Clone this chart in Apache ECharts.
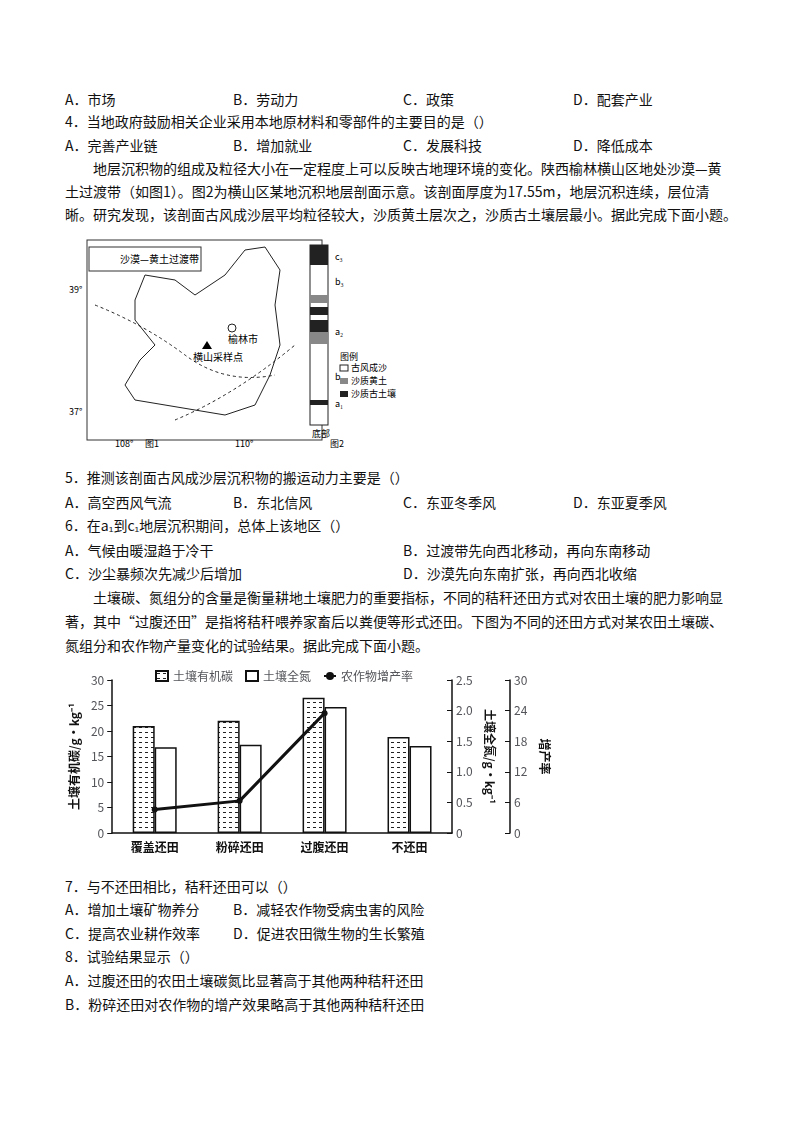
<!DOCTYPE html>
<html><head><meta charset="utf-8">
<script src="https://cdn.jsdelivr.net/npm/echarts@6/dist/echarts.min.js"></script>
<style>
body{margin:0;width:800px;height:1132px;background:#fff;font-family:"Noto Sans CJK SC",sans-serif;color:#111;position:relative}
.l{position:absolute;font-size:14px;white-space:nowrap;line-height:20px}
</style></head><body>
<div class="l" style="left:65px;top:89px">A．市场</div><div class="l" style="left:233px;top:89px">B．劳动力</div><div class="l" style="left:403px;top:89px">C．政策</div><div class="l" style="left:573px;top:89px">D．配套产业</div>
<div class="l" style="left:65px;top:111px">4．当地政府鼓励相关企业采用本地原材料和零部件的主要目的是（）</div>
<div class="l" style="left:65px;top:135px">A．完善产业链</div><div class="l" style="left:233px;top:135px">B．增加就业</div><div class="l" style="left:403px;top:135px">C．发展科技</div><div class="l" style="left:573px;top:135px">D．降低成本</div>
<div class="l" style="left:93px;top:158px">地层沉积物的组成及粒径大小在一定程度上可以反映古地理环境的变化。陕西榆林横山区地处沙漠—黄</div>
<div class="l" style="left:65px;top:181px">土过渡带（如图1）。图2为横山区某地沉积地层剖面示意。该剖面厚度为17.55m，地层沉积连续，层位清</div>
<div class="l" style="left:65px;top:204px">晰。研究发现，该剖面古风成沙层平均粒径较大，沙质黄土层次之，沙质古土壤层最小。据此完成下面小题。</div>
<svg style="position:absolute;left:65px;top:235px" width="360" height="215" font-size="9" font-family="Noto Sans CJK SC">
<rect x="22" y="5" width="235" height="200" fill="none" stroke="#333"/>
<rect x="24" y="12" width="112" height="24" fill="none" stroke="#333"/>
<text x="55" y="28" font-size="10">沙漠—黄土过渡带</text>
<path d="M70 65 L80 40 L110 45 L130 60 L160 40 L180 15 L200 12 L215 35 L210 70 L215 110 L205 140 L190 170 L160 180 L130 175 L100 170 L70 165 L60 150 L75 125 L90 110 L70 85 Z" fill="none" stroke="#222"/>
<path d="M30 70 Q80 90 120 120 T210 140" fill="none" stroke="#222" stroke-dasharray="3 3"/>
<path d="M110 185 Q170 160 230 110" fill="none" stroke="#222" stroke-dasharray="3 3"/>
<circle cx="167" cy="93" r="4" fill="none" stroke="#222"/><text x="163" y="108" font-size="10">榆林市</text>
<path d="M142 106 L147 114 L137 114 Z"/><text x="128" y="126" font-size="10">横山采样点</text>
<text x="4" y="58">39°</text><text x="4" y="180">37°</text><text x="50" y="212">108°</text><text x="170" y="212">110°</text><text x="80" y="212">图1</text><text x="265" y="212">图2</text>
<rect x="245" y="10" width="18" height="180" fill="#fff" stroke="#222"/>
<rect x="245" y="10" width="18" height="20" fill="#222"/><rect x="245" y="60" width="18" height="8" fill="#888"/><rect x="245" y="72" width="18" height="8" fill="#222"/><rect x="245" y="85" width="18" height="12" fill="#222"/><rect x="245" y="97" width="18" height="12" fill="#888"/><rect x="245" y="165" width="18" height="5" fill="#222"/>
<text x="270" y="25">c₃</text><text x="270" y="50">b₃</text><text x="270" y="100">a₂</text><text x="270" y="145">b₁</text><text x="270" y="172">a₁</text><text x="247" y="202">底部</text>
<text x="275" y="125">图例</text><rect x="275" y="130" width="8" height="6" fill="none" stroke="#222"/><text x="286" y="136">古风成沙</text>
<rect x="275" y="143" width="8" height="6" fill="#888"/><text x="286" y="149">沙质黄土</text><rect x="275" y="156" width="8" height="6" fill="#222"/><text x="286" y="162">沙质古土壤</text>
</svg>
<div class="l" style="left:65px;top:467px">5．推测该剖面古风成沙层沉积物的搬运动力主要是（）</div>
<div class="l" style="left:65px;top:492px">A．高空西风气流</div><div class="l" style="left:233px;top:492px">B．东北信风</div><div class="l" style="left:403px;top:492px">C．东亚冬季风</div><div class="l" style="left:573px;top:492px">D．东亚夏季风</div>
<div class="l" style="left:65px;top:515px">6．在a₁到c₁地层沉积期间，总体上该地区（）</div>
<div class="l" style="left:65px;top:540px">A．气候由暖湿趋于冷干</div><div class="l" style="left:403px;top:540px">B．过渡带先向西北移动，再向东南移动</div>
<div class="l" style="left:65px;top:563px">C．沙尘暴频次先减少后增加</div><div class="l" style="left:403px;top:563px">D．沙漠先向东南扩张，再向西北收缩</div>
<div class="l" style="left:93px;top:587px">土壤碳、氮组分的含量是衡量耕地土壤肥力的重要指标，不同的秸秆还田方式对农田土壤的肥力影响显</div>
<div class="l" style="left:65px;top:611px">著，其中“过腹还田”是指将秸秆喂养家畜后以粪便等形式还田。下图为不同的还田方式对某农田土壤碳、</div>
<div class="l" style="left:65px;top:635px">氮组分和农作物产量变化的试验结果。据此完成下面小题。</div>
<div id="c" style="position:absolute;left:60px;top:665px;width:500px;height:200px"></div>
<div class="l" style="left:65px;top:876px">7．与不还田相比，秸秆还田可以（）</div>
<div class="l" style="left:65px;top:899px">A．增加土壤矿物养分</div><div class="l" style="left:233px;top:899px">B．减轻农作物受病虫害的风险</div>
<div class="l" style="left:65px;top:923px">C．提高农业耕作效率</div><div class="l" style="left:233px;top:923px">D．促进农田微生物的生长繁殖</div>
<div class="l" style="left:65px;top:946px">8．试验结果显示（）</div>
<div class="l" style="left:65px;top:970px">A．过腹还田的农田土壤碳氮比显著高于其他两种秸秆还田</div>
<div class="l" style="left:65px;top:994px">B．粉碎还田对农作物的增产效果略高于其他两种秸秆还田</div>
<script>
var categories = ['覆盖还田', '粉碎还田', '过腹还田', '不还田'];
var soilCarbon = [21, 22, 26.5, 18.8];
var soilNitrogen = [1.4, 1.44, 2.06, 1.42];
var yieldRate = [4.6, 6.3, 23.5, null];

var pc = document.createElement('canvas');
pc.width = 6; pc.height = 5;
var g = pc.getContext('2d');
g.fillStyle = '#fff'; g.fillRect(0, 0, 6, 5);
g.fillStyle = '#222'; g.fillRect(1, 2, 3, 1);
var pattern = {image: pc, repeat: 'repeat'};

var ax = {lineStyle: {color: '#111', width: 1.5}};
var chart = echarts.init(document.getElementById('c'));
chart.setOption({
  animation: false,
  textStyle: {fontFamily: 'Noto Sans CJK SC', color: '#111'},
  legend: {top: 0, left: 90, itemWidth: 12, itemHeight: 10, itemGap: 12, textStyle: {fontSize: 12},
    data: [{name: '土壤有机碳', icon: 'rect'}, {name: '土壤全氮', icon: 'rect'}, '农作物增产率']},
  grid: {left: 50, right: 108, top: 15, bottom: 32},
  xAxis: {type: 'category', data: categories, axisLine: ax, axisTick: {show: false},
    axisLabel: {fontSize: 12, fontWeight: 'bold', color: '#111'}},
  yAxis: [
    {type: 'value', min: 0, max: 30, interval: 5, name: '土壤有机碳/g·kg⁻¹', nameLocation: 'middle', nameGap: 26, nameRotate: 90,
      nameTextStyle: {fontSize: 12, fontWeight: 'bold'}, axisLine: Object.assign({show: true}, ax), axisTick: {show: true},
      splitLine: {show: false}, axisLabel: {fontSize: 12}},
    {type: 'value', min: 0, max: 2.5, interval: 0.5, position: 'right', name: '土壤全氮/g·kg⁻¹', nameLocation: 'middle', nameGap: 22, nameRotate: -90,
      nameTextStyle: {fontSize: 12, fontWeight: 'bold'}, axisLine: Object.assign({show: true}, ax), axisTick: {show: true, inside: true},
      splitLine: {show: false}, axisLabel: {fontSize: 12, margin: 4, formatter: function (v) { return v === 0 ? '0' : v.toFixed(1); }}},
    {type: 'value', min: 0, max: 30, interval: 6, position: 'right', offset: 58, name: '增产率', nameLocation: 'middle', nameGap: 22, nameRotate: -90,
      nameTextStyle: {fontSize: 12, fontWeight: 'bold'}, axisLine: Object.assign({show: true}, ax), axisTick: {show: true, inside: true},
      splitLine: {show: false}, axisLabel: {fontSize: 12, margin: 4}}
  ],
  series: [
    {name: '土壤有机碳', type: 'bar', data: soilCarbon, barWidth: 22, barGap: '0%',
      itemStyle: {color: pattern, borderColor: '#111', borderWidth: 1.5}},
    {name: '土壤全氮', type: 'bar', yAxisIndex: 1, data: soilNitrogen, barWidth: 22,
      itemStyle: {color: '#fff', borderColor: '#111', borderWidth: 1.5}},
    {name: '农作物增产率', type: 'line', yAxisIndex: 2, data: yieldRate, symbol: 'circle', symbolSize: 6,
      lineStyle: {color: '#111', width: 3}, itemStyle: {color: '#111'}}
  ]
});
</script>
</body></html>
